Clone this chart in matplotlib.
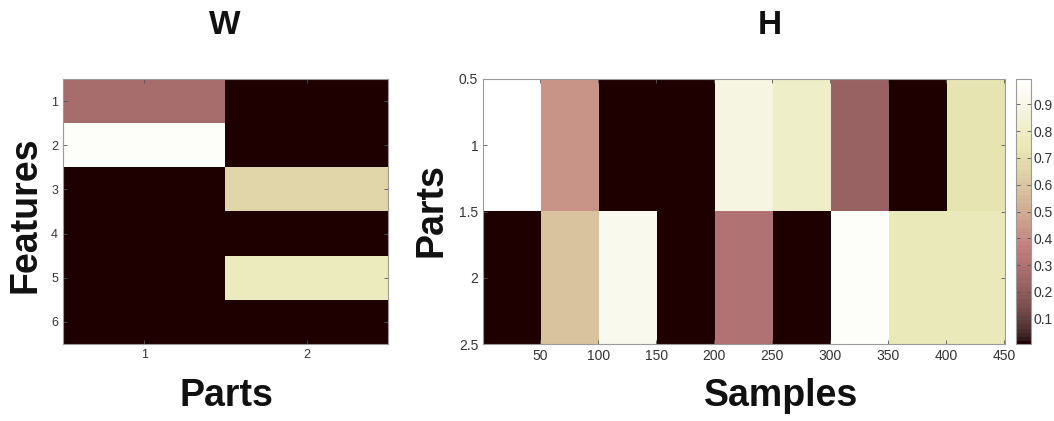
import matplotlib
matplotlib.use("Agg")
import matplotlib.pyplot as plt
import numpy as np

# data
features = [1, 2, 3, 4, 5, 6]
parts = [1, 2]
W = [[0.27, 0.00],
     [0.97, 0.00],
     [0.00, 0.67],
     [0.00, 0.00],
     [0.00, 0.77],
     [0.00, 0.00]]

block_size = 50
H_part1 = [1.00, 0.43, 0.00, 0.00, 0.89, 0.81, 0.22, 0.00, 0.72]
H_part2 = [0.00, 0.58, 0.93, 0.00, 0.30, 0.00, 0.98, 0.76, 0.76]

sample_ticks = [50, 100, 150, 200, 250, 300, 350, 400, 450]
part_ticks = [0.5, 1, 1.5, 2, 2.5]
cbar_ticks = [0.1, 0.2, 0.3, 0.4, 0.5, 0.6, 0.7, 0.8, 0.9]

plt.rcParams['font.family'] = ['Liberation Sans', 'DejaVu Sans']

FW, FH = 1054, 421
def box(x0, y0, x1, y1):
    return [x0 / FW, 1 - y1 / FH, (x1 - x0) / FW, (y1 - y0) / FH]

cmap = plt.get_cmap('pink', 64)
edge = '#9a9a9a'

fig = plt.figure(figsize=(FW / 100, FH / 100), dpi=100)

def style(ax):
    ax.tick_params(direction='in', length=3, width=0.6, color='#555555',
                   labelsize=10, labelcolor='#333333',
                   top=True, right=True)
    for s in ax.spines.values():
        s.set_color(edge)
        s.set_linewidth(0.8)

# W panel
axW = fig.add_axes(box(63, 79, 388, 344))
Wm = np.array(W)
axW.imshow(Wm, cmap=cmap, vmin=0, vmax=1, aspect='auto',
           interpolation='nearest',
           extent=(0.5, len(parts) + 0.5, len(features) + 0.5, 0.5))
axW.set_xticks(parts)
axW.set_yticks(features)
style(axW)
axW.tick_params(labelsize=9)

# H panel
axH = fig.add_axes(box(483, 79, 1005, 344))
Hm = np.array([np.repeat(H_part1, block_size), np.repeat(H_part2, block_size)])
im = axH.imshow(Hm, cmap=cmap, vmin=0, vmax=1, aspect='auto',
                interpolation='nearest',
                extent=(0.5, Hm.shape[1] + 0.5, 2.5, 0.5))
axH.set_xticks(sample_ticks)
axH.set_yticks(part_ticks)
axH.set_yticklabels(['0.5', '1', '1.5', '2', '2.5'])
style(axH)

cax = fig.add_axes(box(1016, 79, 1031, 344))
cb = fig.colorbar(im, cax=cax, ticks=cbar_ticks)
cb.ax.set_ylim(0.005, 0.995)
cb.ax.tick_params(direction='in', length=3, width=0.6, color='#555555',
                  labelsize=10, labelcolor='#333333', left=True, right=True,
                  pad=2)
cb.outline.set_edgecolor(edge)
cb.outline.set_linewidth(0.8)

# titles and labels
big = dict(fontweight='bold', ha='center', va='center', color='#111111')
fig.text(225 / FW, 1 - 25 / FH, 'W', fontsize=24, **big)
fig.text(770 / FW, 1 - 25 / FH, 'H', fontsize=24, **big)
fig.text(26 / FW, 1 - 215 / FH, 'Features', fontsize=27, rotation=90, **big)
fig.text(226 / FW, 1 - 396 / FH, 'Parts', fontsize=27, **big)
fig.text(781 / FW, 1 - 396 / FH, 'Samples', fontsize=27, **big)
fig.text(431 / FW, 1 - 210 / FH, 'Parts', fontsize=27, rotation=90, **big)

fig.savefig('out.png', dpi=100)
